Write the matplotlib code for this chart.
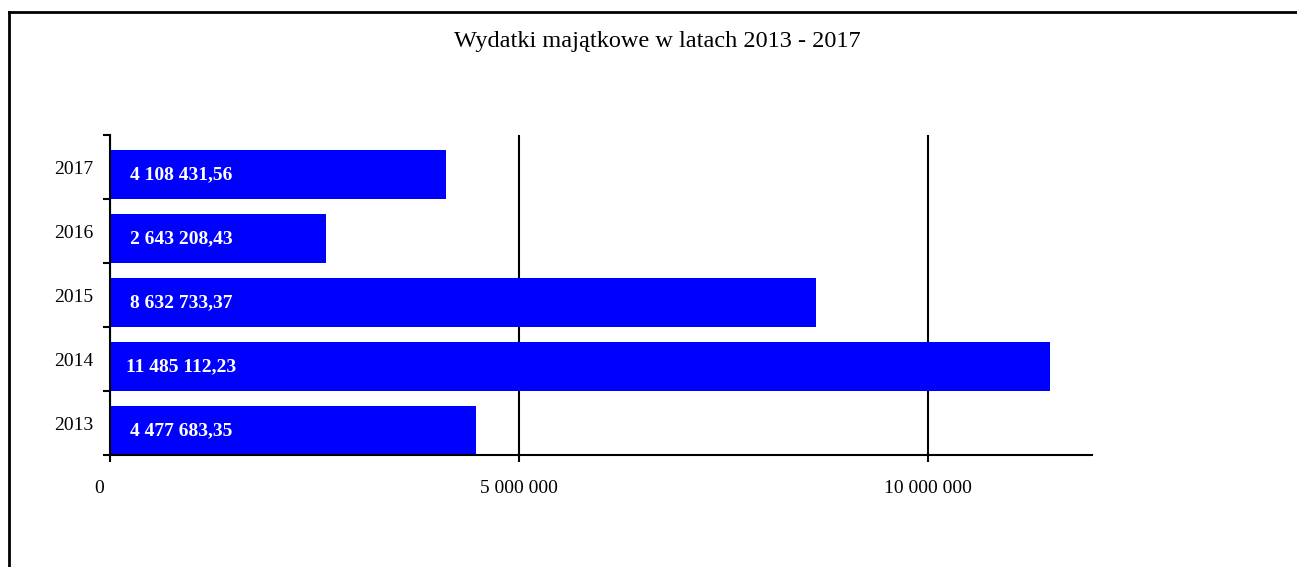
import matplotlib.pyplot as plt
from matplotlib.lines import Line2D
from matplotlib.ticker import FuncFormatter, FixedLocator
import matplotlib.transforms as mtransforms

years = ["2013", "2014", "2015", "2016", "2017"]
values = [4477683.35, 11485112.23, 8632733.37, 2643208.43, 4108431.56]
x_ticks = [0, 5000000, 10000000]


def fmt_int(v, pos=None):
    return f"{int(round(v)):,}".replace(",", " ")


def fmt_pl(v):
    s = f"{v:,.2f}"
    return s.replace(",", " ").replace(".", ",")


plt.rcParams["font.family"] = ["Liberation Serif", "DejaVu Serif"]

fig = plt.figure(figsize=(12.97, 5.67), dpi=100)
W, H = 1297, 567
ax = fig.add_axes([110 / W, 1 - 455 / H, (1092 - 110) / W, (455 - 135) / H])

pos = list(range(len(years)))
bar_h = 0.77
ax.barh([p - 0.5 for p in pos], values, height=bar_h, align="edge",
        color="#0000FF", zorder=2)

for p, v in zip(pos, values):
    ax.annotate(fmt_pl(v), xy=(0, p - 0.5 + bar_h / 2), xytext=(51, 0),
                textcoords="offset points", ha="center", va="center",
                color="white", fontsize=14, fontweight="bold", zorder=3)

ax.set_xlim(0, 12000000)
ax.set_ylim(-0.5, len(years) - 0.5)

ax.set_xticks(x_ticks)
ax.xaxis.set_major_formatter(FuncFormatter(fmt_int))
ax.set_yticks(pos)
ax.set_yticklabels(years)
ax.yaxis.set_minor_locator(FixedLocator([p - 0.5 for p in pos] + [len(years) - 0.5]))

ax.tick_params(axis="y", which="major", length=0, pad=12, labelsize=14)
ax.tick_params(axis="y", which="minor", length=5, width=1.5, direction="out")
ax.tick_params(axis="x", length=5, width=1.5, direction="out", pad=13, labelsize=14)

ax.grid(axis="x", color="black", linewidth=1.5, zorder=1)
ax.set_axisbelow(True)
for s in ["top", "right"]:
    ax.spines[s].set_visible(False)
for s in ["left", "bottom"]:
    ax.spines[s].set_linewidth(1.5)
    ax.spines[s].set_zorder(4)

# shift the "0" label left as in the original
lab0 = ax.get_xticklabels()[0]
lab0.set_transform(lab0.get_transform() + mtransforms.ScaledTranslation(-11 / 100, 0, fig.dpi_scale_trans))

fig.text(657 / W, 1 - 42 / H, "Wydatki majątkowe w latach 2013 - 2017",
         ha="center", va="center", fontsize=17.5)

# outer frame (only left and top edges visible)
fig.add_artist(Line2D([9 / W, 9 / W], [0, 1 - 12 / H], transform=fig.transFigure,
                      color="black", linewidth=2))
fig.add_artist(Line2D([9 / W, 1], [1 - 12 / H, 1 - 12 / H], transform=fig.transFigure,
                      color="black", linewidth=2))

fig.savefig("out.png", dpi=100)
